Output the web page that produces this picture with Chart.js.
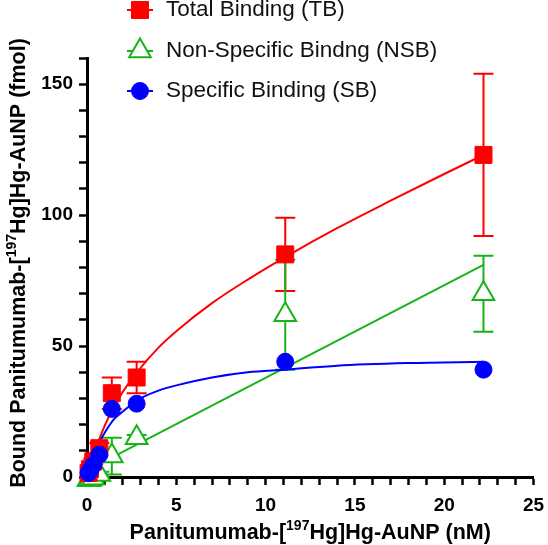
<!DOCTYPE html>
<html>
<head>
<meta charset="utf-8">
<title>Binding</title>
<script src="https://cdn.jsdelivr.net/npm/chart.js@4.4.1/dist/chart.umd.min.js"></script>
<style>
  html, body { margin: 0; padding: 0; background: #fff; }
  canvas { display: block; }
</style>
</head>
<body>
<canvas id="bindingChart" width="548" height="545"></canvas>
<script>
// Concentrations of Panitumumab-[197Hg]Hg-AuNP (nM)
const concentrations = [0.087, 0.17, 0.35, 0.69, 1.39, 2.78, 11.1, 22.2];

// Bound (fmol)
const totalBinding = [1.5, 3, 6, 11, 32, 38, 85, 123];
const totalBindingErr = [0, 0, 1, 2, 6, 6, 14, 31];
const nonSpecific = [-1, -1, -0.5, 1, 8, 15, 62, 70];
const nonSpecificErr = [0, 0, 0, 1, 7, 1, 21, 14.5];
const specificBinding = [1.5, 2.5, 4.5, 8.5, 26, 28, 44, 41];

// Fitted curves, sampled off the figure
const tbFitX = [0, 0.25, 0.5, 1, 1.5, 2, 2.8, 4, 5, 7, 9, 11.1, 14, 17, 20, 22.2];
const tbFitY = [0, 6, 11, 19.7, 26.7, 32.5, 40, 49.4, 55.7, 66.4, 75.4, 84, 95, 105.5, 115.7, 123];
const nsbFitX = [0, 22.2];
const nsbFitY = [2.5, 81];
const sbFitX = [0, 0.25, 0.5, 0.75, 1, 1.5, 2, 3, 4, 5, 7, 9, 11.1, 14, 18, 22.2];
const sbFitY = [0, 6, 10.5, 14, 17, 22, 25, 30, 33, 35, 38, 40, 41, 42.5, 43.5, 44];

// Axis labels
const xTickLabels = [0, 5, 10, 15, 20, 25];
const yTickLabels = [0, 50, 100, 150];

const RED = '#ff0000';
const GREEN = '#17b317';
const BLUE = '#0000ff';
const FONT = '"Liberation Sans", Arial, Helvetica, sans-serif';

function toPoints(xs, ys) {
    return xs.map((x, i) => ({ x: x, y: ys[i] }));
}

function fitLine(xs, ys, color) {
    return {
        data: toPoints(xs, ys),
        showLine: true,
        borderColor: color,
        borderWidth: 2,
        pointRadius: 0,
        cubicInterpolationMode: 'monotone',
        clip: false,
        legend: false
    };
}

// Error bars drawn under the markers
const errorBars = {
    id: 'errorBars',
    beforeDatasetsDraw(chart) {
        const ctx = chart.ctx;
        const xs = chart.scales.x, ys = chart.scales.y;
        chart.data.datasets.forEach(ds => {
            if (!ds.errors) return;
            ctx.save();
            ctx.strokeStyle = ds.borderColor;
            ctx.lineWidth = 2;
            ds.data.forEach((p, j) => {
                const e = ds.errors[j];
                if (!e) return;
                const px = xs.getPixelForValue(p.x);
                const top = ys.getPixelForValue(p.y + e);
                const bot = ys.getPixelForValue(p.y - e);
                ctx.beginPath();
                ctx.moveTo(px, top); ctx.lineTo(px, bot);
                ctx.moveTo(px - 10, top); ctx.lineTo(px + 10, top);
                ctx.moveTo(px - 10, bot); ctx.lineTo(px + 10, bot);
                ctx.stroke();
            });
            ctx.restore();
        });
    }
};

// Text with a superscript part, optionally rotated
function drawRichText(ctx, parts, cx, cy, size, rotate) {
    ctx.save();
    ctx.translate(cx, cy);
    if (rotate) ctx.rotate(-Math.PI / 2);
    ctx.fillStyle = '#000';
    ctx.textBaseline = 'alphabetic';
    ctx.textAlign = 'left';
    const supSize = Math.round(size * 0.65);
    let total = 0;
    parts.forEach(p => {
        ctx.font = 'bold ' + (p.sup ? supSize : size) + 'px ' + FONT;
        p.w = ctx.measureText(p.text).width;
        total += p.w;
    });
    let x = -total / 2;
    const base = size * 0.36;
    parts.forEach(p => {
        ctx.font = 'bold ' + (p.sup ? supSize : size) + 'px ' + FONT;
        ctx.fillText(p.text, x, p.sup ? base - size * 0.42 : base);
        x += p.w;
    });
    ctx.restore();
}

const axisTitles = {
    id: 'axisTitles',
    afterDraw(chart) {
        const ctx = chart.ctx;
        const area = chart.chartArea;
        drawRichText(ctx, [
            { text: 'Panitumumab-[' }, { text: '197', sup: true }, { text: 'Hg]Hg-AuNP (nM)' }
        ], (area.left + area.right) / 2, 531, 21.5, false);
        drawRichText(ctx, [
            { text: 'Bound Panitumumab-[' }, { text: '197', sup: true }, { text: 'Hg]Hg-AuNP (fmol)' }
        ], 17, 263, 21.5, true);
    }
};

// Vertical legend at the top of the plot
const sideLegend = {
    id: 'sideLegend',
    afterDraw(chart) {
        const ctx = chart.ctx;
        const rows = [10, 51, 91];
        chart.data.datasets.forEach(ds => {
            if (ds.legend === false) return;
            const y = rows[ds.legendRow];
            ctx.save();
            ctx.strokeStyle = ds.borderColor;
            ctx.lineWidth = 2;
            ctx.beginPath();
            ctx.moveTo(127, y); ctx.lineTo(153, y);
            ctx.stroke();
            ctx.fillStyle = ds.backgroundColor;
            ctx.lineWidth = ds.pointBorderWidth || 2;
            Chart.helpers.drawPoint(ctx, {
                pointStyle: ds.pointStyle,
                radius: ds.pointRadius,
                borderWidth: ds.pointBorderWidth || 1,
                rotation: 0
            }, 140, y);
            ctx.fillStyle = '#111';
            ctx.font = '22.5px ' + FONT;
            ctx.textBaseline = 'middle';
            ctx.fillText(ds.label, 166, y);
            ctx.restore();
        });
    }
};

const ctx = document.getElementById('bindingChart');
new Chart(ctx, {
    type: 'scatter',
    data: {
        datasets: [
            {
                label: 'Specific Binding (SB)',
                legendRow: 2,
                data: toPoints(concentrations, specificBinding),
                pointStyle: 'circle',
                pointRadius: 8.5,
                pointBorderWidth: 1,
                backgroundColor: BLUE,
                borderColor: BLUE,
                clip: false
            },
            {
                label: 'Total Binding (TB)',
                legendRow: 0,
                data: toPoints(concentrations, totalBinding),
                errors: totalBindingErr,
                pointStyle: 'rect',
                pointRadius: 12,
                pointBorderWidth: 1,
                backgroundColor: RED,
                borderColor: RED,
                clip: false
            },
            {
                label: 'Non-Specific Bindng (NSB)',
                legendRow: 1,
                data: toPoints(concentrations, nonSpecific),
                errors: nonSpecificErr,
                pointStyle: 'triangle',
                pointRadius: 12.5,
                pointBorderWidth: 2,
                backgroundColor: '#ffffff',
                borderColor: GREEN,
                clip: false
            },
            fitLine(sbFitX, sbFitY, BLUE),
            fitLine(tbFitX, tbFitY, RED),
            fitLine(nsbFitX, nsbFitY, GREEN)
        ]
    },
    options: {
        responsive: false,
        animation: false,
        devicePixelRatio: 1,
        layout: { padding: { top: 58, right: 9, left: 0, bottom: 0 } },
        plugins: {
            legend: { display: false },
            tooltip: { enabled: false }
        },
        elements: { point: { hoverRadius: 0 } },
        scales: {
            x: {
                type: 'linear',
                min: 0,
                max: 25,
                border: { display: true, color: '#000', width: 3 },
                grid: { drawOnChartArea: false, drawTicks: true, tickLength: 8, tickWidth: 2.5, tickColor: '#000' },
                ticks: {
                    stepSize: 1,
                    autoSkip: false,
                    maxRotation: 0,
                    padding: 9,
                    color: '#000',
                    font: { family: FONT, size: 19, weight: 'bold' },
                    callback: v => xTickLabels.includes(v) ? v : ''
                },
                afterFit(s) { s.height = 68; s.paddingLeft = 0; s.paddingRight = 0; }
            },
            y: {
                type: 'linear',
                min: 0,
                max: 160,
                border: { display: true, color: '#000', width: 3 },
                grid: { drawOnChartArea: false, drawTicks: true, tickLength: 8, tickWidth: 2.5, tickColor: '#000' },
                ticks: {
                    stepSize: 10,
                    autoSkip: false,
                    padding: 6,
                    color: '#000',
                    font: { family: FONT, size: 19, weight: 'bold' },
                    callback: v => yTickLabels.includes(v) ? v : ''
                },
                afterFit(s) { s.width = 87; s.paddingTop = 0; s.paddingBottom = 0; }
            }
        }
    },
    plugins: [errorBars, axisTitles, sideLegend]
});
</script>
</body>
</html>
